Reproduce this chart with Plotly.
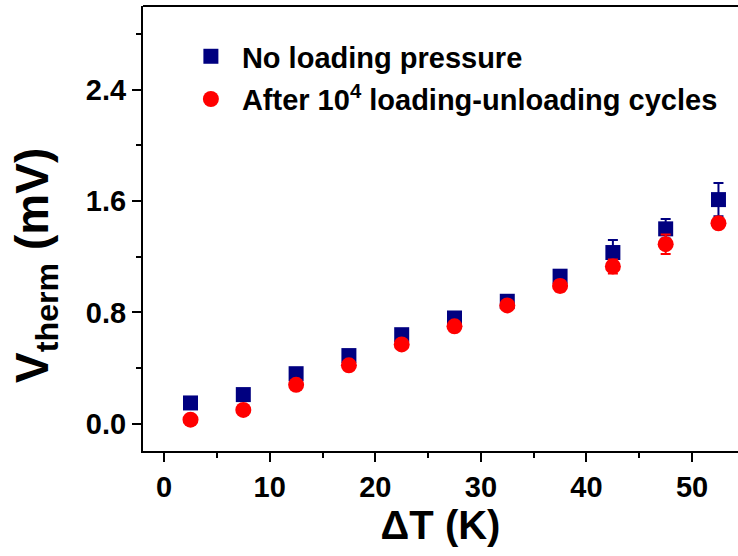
import plotly.graph_objects as go

dT = [2.5, 7.5, 12.5, 17.5, 22.5, 27.5, 32.5, 37.5, 42.5, 47.5, 52.5]
v_no_load = [0.15, 0.21, 0.36, 0.49, 0.64, 0.76, 0.88, 1.06, 1.23, 1.40, 1.61]
err_no_load = [0.02, 0.02, 0.02, 0.02, 0.02, 0.02, 0.02, 0.04, 0.09, 0.07, 0.12]
v_cycles = [0.03, 0.10, 0.28, 0.42, 0.57, 0.70, 0.85, 0.99, 1.13, 1.29, 1.44]
err_cycles = [0.01, 0.01, 0.02, 0.02, 0.02, 0.02, 0.02, 0.04, 0.05, 0.07, 0.02]

name_no_load = "No loading pressure"
name_cycles = "After 10<sup>4</sup> loading-unloading cycles"

x_ticks = [0, 10, 20, 30, 40, 50]
y_ticks = [0.0, 0.8, 1.6, 2.4]
y_tick_text = ["0.0", "0.8", "1.6", "2.4"]

x_title = "ΔT (K)"
y_title = "V<sub>therm</sub> (mV)"

FONT = "Liberation Sans, Arial, sans-serif"
NAVY = "#000080"
RED = "#ff0000"

fig = go.Figure()
fig.add_trace(go.Scatter(
    x=dT, y=v_no_load, mode="markers", name=name_no_load, legendgroup="a",
    marker=dict(symbol="square", size=15, color=NAVY),
    error_y=dict(type="data", array=err_no_load, color=NAVY, thickness=2, width=5),
))
fig.add_trace(go.Scatter(
    x=dT, y=v_cycles, mode="markers", name=name_cycles, legendgroup="b",
    marker=dict(symbol="circle", size=16, color=RED),
    error_y=dict(type="data", array=err_cycles, color=RED, thickness=2, width=5),
))

axis_common = dict(
    showline=True, linecolor="black", linewidth=2,
    ticks="outside", ticklen=9, tickwidth=2, tickcolor="black",
    showgrid=False, zeroline=False,
    tickfont=dict(family=FONT, size=29, color="black", weight="bold"),
)

fig.update_xaxes(
    range=[-2, 54.35], tickvals=x_ticks,
    minor=dict(dtick=5, tick0=0, ticklen=5, tickwidth=2, tickcolor="black", ticks="outside"),
    title=dict(text=x_title, font=dict(family=FONT, size=40, color="black", weight="bold"), standoff=6),
    **axis_common,
)
fig.update_yaxes(
    range=[-0.195, 3.0], tickvals=y_ticks, ticktext=y_tick_text,
    minor=dict(dtick=0.4, tick0=0, ticklen=5, tickwidth=2, tickcolor="black", ticks="outside"),
    **axis_common,
)

fig.add_annotation(
    text=y_title, textangle=-90, xref="paper", yref="paper",
    x=-0.18, y=0.418, xanchor="center", yanchor="middle", showarrow=False,
    font=dict(family=FONT, size=46, color="black", weight="bold"),
)

fig.add_shape(type="line", xref="paper", yref="paper", x0=0, x1=1, y0=1, y1=1,
              line=dict(color="black", width=2))

fig.update_layout(
    width=738, height=556,
    margin=dict(l=143, r=0, t=6, b=105),
    plot_bgcolor="white", paper_bgcolor="white",
    showlegend=True,
    legend=dict(
        x=0.062, y=0.944, xanchor="left", yanchor="top",
        bgcolor="rgba(0,0,0,0)",
        font=dict(family=FONT, size=29, color="black", weight="bold"),
        traceorder="grouped", tracegroupgap=2, itemwidth=52,
    ),
)

fig.write_html("out.html")
